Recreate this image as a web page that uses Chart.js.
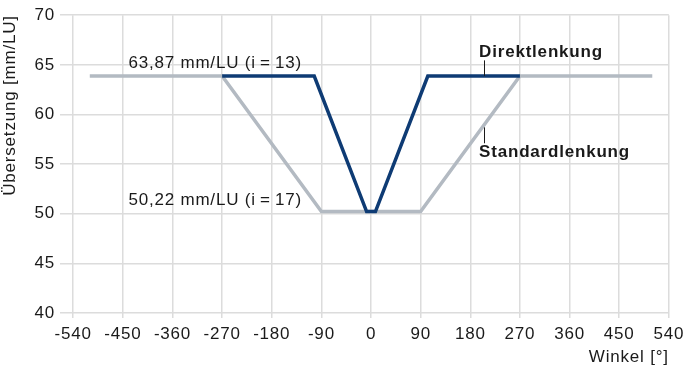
<!DOCTYPE html>
<html>
<head>
<meta charset="utf-8">
<script src="https://cdn.jsdelivr.net/npm/chart.js@4/dist/chart.umd.min.js"></script>
<style>
  html, body { margin: 0; padding: 0; background: #fff; }
  #wrap { width: 689px; height: 370px; }
</style>
</head>
<body>
<div id="wrap"><canvas id="chart"></canvas></div>
<script>
const winkelStandard = [-510, -270, -90, 90, 270, 510];
const standard = [63.87, 63.87, 50.22, 50.22, 63.87, 63.87];
const winkelDirekt = [-270, -103, -8, 8, 103, 270];
const direkt = [63.87, 63.87, 50.22, 50.22, 63.87, 63.87];
const xTicks = [-540, -450, -360, -270, -180, -90, 0, 90, 180, 270, 360, 450, 540];
const yTicks = [40, 45, 50, 55, 60, 65, 70];

const FONT = '"Liberation Sans", Arial, sans-serif';
const colStandard = '#b3bac2';
const colDirekt = '#0e3b74';

function pts(xs, ys) {
  return xs.map((x, i) => ({ x: x, y: ys[i] }));
}

// the original font runs wider, so open up the letters a little
const sperren = {
  id: 'sperren',
  beforeDraw(chart) { chart.ctx.letterSpacing = '0.8px'; }
};

// text labels and leader lines placed in data coordinates
const beschriftung = {
  id: 'beschriftung',
  afterDatasetsDraw(chart) {
    const c = chart.ctx;
    const sx = chart.scales.x, sy = chart.scales.y;
    const X = v => sx.getPixelForValue(v);
    const Y = v => sy.getPixelForValue(v);
    c.save();
    c.fillStyle = '#1a1a1a';
    c.textBaseline = 'middle';
    c.textAlign = 'left';
    c.font = '17px ' + FONT;
    c.fillText('63,87 mm/LU (i\u2009=\u200913)', X(-440), Y(65.2));
    c.fillText('50,22 mm/LU (i\u2009=\u200917)', X(-440), Y(51.4));
    c.font = 'bold 17px ' + FONT;
    c.fillText('Direktlenkung', X(196), Y(66.3));
    c.fillText('Standardlenkung', X(196), Y(56.2));
    c.strokeStyle = '#1a1a1a';
    c.lineWidth = 1;
    c.beginPath();
    c.moveTo(Math.round(X(204)) + 0.5, Y(65.45));
    c.lineTo(Math.round(X(204)) + 0.5, Y(63.87));
    c.moveTo(Math.round(X(204)) + 0.5, Y(58.7));
    c.lineTo(Math.round(X(204)) + 0.5, Y(57.1));
    c.stroke();
    c.restore();
  }
};

new Chart(document.getElementById('chart'), {
  type: 'scatter',
  data: {
    datasets: [
      {
        label: 'Direktlenkung',
        data: pts(winkelDirekt, direkt),
        showLine: true,
        borderColor: colDirekt,
        borderWidth: 3.5,
        pointRadius: 0,
        borderJoinStyle: 'miter',
        order: 1
      },
      {
        label: 'Standardlenkung',
        data: pts(winkelStandard, standard),
        showLine: true,
        borderColor: colStandard,
        borderWidth: 3.5,
        pointRadius: 0,
        borderJoinStyle: 'miter',
        order: 2
      }
    ]
  },
  options: {
    responsive: true,
    maintainAspectRatio: false,
    animation: false,
    layout: { padding: { left: 0, right: 20, top: 8, bottom: 0 } },
    plugins: { legend: { display: false }, tooltip: { enabled: false } },
    scales: {
      x: {
        type: 'linear',
        min: -564,
        max: 540,
        afterBuildTicks: s => { s.ticks = xTicks.map(v => ({ value: v })); },
        afterFit: s => { s.height = 57; },
        grid: { color: '#dcdcdc', lineWidth: 1.5, tickLength: 5, drawTicks: true },
        border: { display: false },
        ticks: { color: '#1a1a1a', font: { family: FONT, size: 17 }, padding: 6, maxRotation: 0, autoSkip: false },
        title: { display: true, text: 'Winkel [°]', align: 'end', color: '#1a1a1a', font: { family: FONT, size: 17 }, padding: { top: 0, bottom: 2 } }
      },
      y: {
        type: 'linear',
        min: 40,
        max: 70,
        afterBuildTicks: s => { s.ticks = yTicks.map(v => ({ value: v })); },
        afterFit: s => { s.width = 60; },
        grid: { color: '#dcdcdc', lineWidth: 1.5, drawTicks: false },
        border: { display: false },
        ticks: { color: '#1a1a1a', font: { family: FONT, size: 17 }, padding: 5 },
        title: { display: true, text: 'Übersetzung [mm/LU]', align: 'end', color: '#1a1a1a', font: { family: FONT, size: 17 }, padding: { top: 0, bottom: 0 } }
      }
    }
  },
  plugins: [sperren, beschriftung]
});
</script>
</body>
</html>
